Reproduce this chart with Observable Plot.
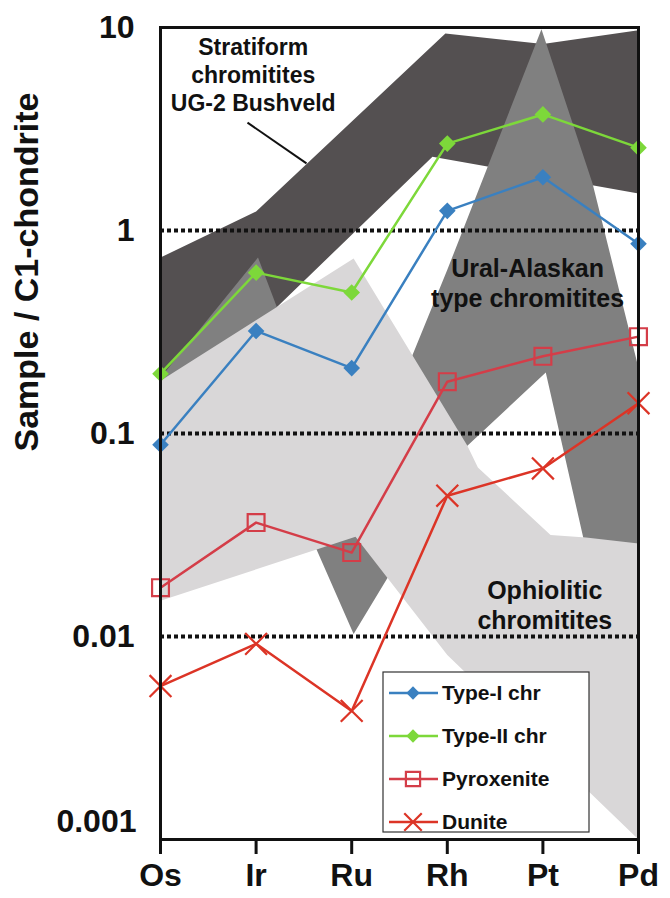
<!DOCTYPE html>
<html>
<head>
<meta charset="utf-8">
<script src="https://cdn.jsdelivr.net/npm/d3@7"></script>
<script src="https://cdn.jsdelivr.net/npm/@observablehq/plot@0.6"></script>
<style>
  body { margin: 0; background: #fff; }
  #chart { width: 670px; height: 898px; }
</style>
</head>
<body>
<div id="chart"></div>
<script>
// Platinum-group elements, in plotting order
const elements = ["Os", "Ir", "Ru", "Rh", "Pt", "Pd"];

// Chondrite-normalized PGE abundances of each sample group
const typeI      = [0.088, 0.32, 0.21, 1.25, 1.83, 0.86];
const typeII     = [0.197, 0.62, 0.495, 2.68, 3.73, 2.56];
const pyroxenite = [0.0174, 0.0364, 0.0259, 0.180, 0.24, 0.30];
const dunite     = [0.0057, 0.0092, 0.0043, 0.0494, 0.0673, 0.141];

// Reference fields: [element position, normalized value],
// upper edge left to right, then lower edge right to left
const stratiformField = [
  [0, 0.736], [1, 1.24], [2.98, 9.34], [4.0, 8.3], [5, 9.7],
  [5, 1.52], [2.845, 2.31], [0, 0.117]
];
const uralAlaskanField = [
  [0, 0.188], [1.02, 0.736], [2, 0.045], [3, 0.64], [3.985, 9.8], [4.52, 1.70], [5, 0.21],
  [5, 0.0022], [4.42, 0.031], [4.03, 0.2], [3.21, 0.087], [2.02, 0.0103], [1, 0.128], [0, 0.17]
];
const ophioliticField = [
  [0, 0.182], [2.02, 0.728], [3.21, 0.087], [3.32, 0.068], [4.08, 0.0316], [4.45, 0.0307], [5, 0.0287],
  [5, 0.001], [3, 0.0081], [2.04, 0.031], [0, 0.015]
];

// Axis ticks and guide levels
const yTicks = [10, 1, 0.1, 0.01, 0.001];
const guideLevels = [1, 0.1, 0.01];

const FONT = "'Liberation Sans', Arial, Helvetica, sans-serif";
const INK = "#111";

const series = [
  {name: "Type-I chr",  values: typeI,      color: "#3a80c0", symbol: "diamond2", r: 7.5, filled: true},
  {name: "Type-II chr", values: typeII,     color: "#7dd83a", symbol: "diamond2", r: 7.5, filled: true},
  {name: "Pyroxenite",  values: pyroxenite, color: "#d43d48", symbol: "square",   r: 9.5, filled: false},
  {name: "Dunite",      values: dunite,     color: "#dc3426", symbol: "times",    r: 10,  filled: false}
];

const field = (pts, color) =>
  Plot.line(pts, {x: d => d[0], y: d => d[1], fill: color, stroke: "none"});

const seriesMarks = series.flatMap(s => {
  const pts = s.values.map((v, i) => ({x: i, y: v}));
  return [
    Plot.line(pts, {x: "x", y: "y", stroke: s.color, strokeWidth: 2.5}),
    s.filled
      ? Plot.dot(pts, {x: "x", y: "y", symbol: s.symbol, r: s.r, fill: s.color, stroke: "none"})
      : Plot.dot(pts, {x: "x", y: "y", symbol: s.symbol, r: s.r, fill: "none", stroke: s.color, strokeWidth: 2.2})
  ];
});

const labelStyle = {fontWeight: "bold", fill: INK, fontFamily: FONT};

const chart = Plot.plot({
  width: 670,
  height: 898,
  marginLeft: 160,
  marginRight: 32,
  marginTop: 27,
  marginBottom: 59,
  style: {fontFamily: FONT, background: "#fff", overflow: "visible"},
  x: {type: "linear", domain: [0, 5], axis: null},
  y: {type: "log", domain: [0.001, 10], axis: null},
  marks: [
    field(stratiformField, "#545051"),
    field(uralAlaskanField, "#808080"),
    field(ophioliticField, "#d9d7d8"),
    Plot.ruleY(guideLevels, {stroke: INK, strokeWidth: 4, strokeDasharray: "4,3"}),

    // field names
    Plot.text(["Stratiform\nchromitites\nUG-2 Bushveld"], {x: 0.97, y: 5.87, fontSize: 23, lineHeight: 1.22, ...labelStyle}),
    Plot.link([0], {x1: 0.91, y1: 3.40, x2: 1.527, y2: 2.14, stroke: INK, strokeWidth: 2}),
    Plot.text(["Ural-Alaskan\ntype chromitites"], {x: 3.84, y: 0.557, fontSize: 25, lineHeight: 1.24, ...labelStyle}),
    Plot.text(["Ophiolitic\nchromitites"], {x: 4.02, y: 0.0144, fontSize: 25, lineHeight: 1.2, ...labelStyle}),

    ...seriesMarks,

    Plot.frame({stroke: INK, strokeWidth: 3}),
    Plot.axisX({
      ticks: elements.map((_, i) => i),
      tickFormat: i => elements[i],
      tickSize: 15,
      tickPadding: 9,
      strokeWidth: 3,
      color: INK,
      fontSize: 32,
      fontWeight: "bold",
      label: null
    }),
    Plot.text(yTicks.slice(0, 4), {y: d => d, text: d => String(d), frameAnchor: "left", textAnchor: "end", dx: -26, fontSize: 32, ...labelStyle}),
    Plot.text(yTicks.slice(4), {y: d => d, text: d => String(d), frameAnchor: "left", textAnchor: "end", dx: -24, dy: -18, fontSize: 32, ...labelStyle}),
    Plot.text(["Sample / C1-chondrite"], {frameAnchor: "left", dx: -133, dy: 18, rotate: -90, fontSize: 34, ...labelStyle})
  ]
});

// Legend box inside the plot area, lower right
const svg = d3.select(chart);
const lg = svg.append("g").attr("transform", "translate(383,672)");
lg.append("rect").attr("width", 206).attr("height", 160)
  .attr("fill", "#fff").attr("stroke", "#333").attr("stroke-width", 1.2);
const symbolTypes = {diamond2: d3.symbolDiamond2, square: d3.symbolSquare, times: d3.symbolTimes};
const legendR = {diamond2: 6, square: 8, times: 8};
series.forEach((s, i) => {
  const row = lg.append("g").attr("transform", `translate(0,${21 + i * 43})`);
  row.append("line").attr("x1", 6).attr("x2", 55).attr("y1", 0).attr("y2", 0)
    .attr("stroke", s.color).attr("stroke-width", 2.5);
  const rr = legendR[s.symbol];
  row.append("path")
    .attr("transform", "translate(30,0)")
    .attr("d", d3.symbol(symbolTypes[s.symbol], Math.PI * rr * rr)())
    .attr("fill", s.filled ? s.color : "none")
    .attr("stroke", s.filled ? "none" : s.color)
    .attr("stroke-width", 2.2);
  row.append("text").attr("x", 59).attr("y", 0).attr("dy", "0.35em")
    .style("text-anchor", "start")
    .style("font-family", FONT)
    .style("font-weight", "bold")
    .style("font-size", "21px")
    .style("fill", INK)
    .text(s.name);
});

document.getElementById("chart").appendChild(chart);
</script>
</body>
</html>
